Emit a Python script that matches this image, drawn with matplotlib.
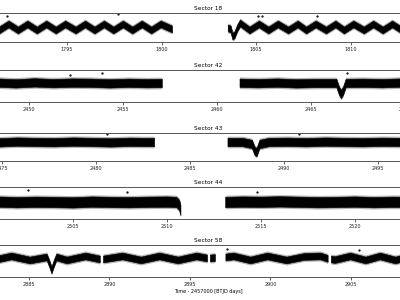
import matplotlib
matplotlib.use("Agg")
import matplotlib.pyplot as plt

# Light curves, one entry per sector: data segments as (time, centre flux), plus scatter half width
sectors = ["Sector 18", "Sector 42", "Sector 43", "Sector 44", "Sector 58"]

s18_t1 = [1790.4, 1790.9, 1791.4, 1791.9, 1792.4, 1792.9, 1793.4, 1793.9, 1794.4, 1794.9,
          1795.45, 1795.95, 1796.45, 1796.95, 1797.45, 1797.95, 1798.45, 1798.95, 1799.45,
          1799.95, 1800.55]
s18_f1 = [0.9985, 1.0015, 0.9985, 1.0015, 0.9985, 1.0015, 0.9985, 1.0015, 0.9985, 1.0015,
          0.9985, 1.0015, 0.9985, 1.0015, 0.9985, 1.0015, 0.9985, 1.0015, 0.9985,
          1.0015, 0.9990]
s18_t2 = [1803.5, 1803.65, 1803.75, 1803.85, 1804.0, 1804.15, 1804.65, 1805.15, 1805.65,
          1806.15, 1806.7, 1807.2, 1807.65, 1808.15, 1808.7, 1809.2, 1809.65, 1810.15,
          1810.7, 1811.2, 1811.7, 1812.2, 1812.7, 1813.2, 1813.7, 1814.6]
s18_f2 = [0.9995, 0.9990, 0.9955, 0.9960, 0.9995, 1.0020, 0.9985, 1.0015, 0.9985,
          1.0015, 0.9985, 1.0015, 0.9985, 1.0015, 0.9985, 1.0015, 0.9985, 1.0015,
          0.9985, 1.0015, 0.9985, 1.0015, 0.9985, 1.0015, 0.9985, 1.0000]

s42_t1 = [2447.3, 2448.3, 2449.3, 2450.3, 2451.3, 2452.3, 2453.3, 2454.3, 2455.3, 2456.3, 2457.07]
s42_f1 = [1.0000, 1.0002, 0.9998, 1.0003, 0.9999, 1.0002, 1.0001, 0.9998, 1.0001, 0.9999, 1.0000]
s42_t2 = [2461.2, 2462.2, 2463.2, 2464.2, 2465.2, 2466.35, 2466.5, 2466.6, 2466.7, 2466.85,
          2467.8, 2468.8, 2469.8, 2470.8, 2471.7]
s42_f2 = [1.0001, 0.9999, 1.0002, 0.9998, 1.0000, 1.0000, 0.9960, 0.9945, 0.9960, 1.0000,
          1.0001, 0.9999, 1.0002, 1.0000, 0.9999]

s43_t1 = [2473.8, 2474.8, 2475.8, 2476.8, 2477.8, 2478.8, 2479.8, 2480.8, 2481.8, 2482.5, 2483.1]
s43_f1 = [1.0000, 0.9998, 1.0002, 1.0000, 0.9999, 1.0002, 1.0000, 0.9998, 1.0001, 1.0000, 1.0000]
s43_t2 = [2487.0, 2487.8, 2488.3, 2488.45, 2488.55, 2488.7, 2489.2, 2490.2, 2491.2, 2492.2,
          2493.2, 2494.2, 2495.2, 2496.2, 2497.2, 2498.1]
s43_f2 = [1.0000, 1.0000, 0.9990, 0.9955, 0.9950, 0.9990, 1.0000, 1.0001, 0.9999, 1.0002,
          1.0000, 0.9999, 1.0001, 1.0000, 0.9999, 1.0000]

s44_t1 = [2500.0, 2501.0, 2502.0, 2503.0, 2504.0, 2505.0, 2506.0, 2507.0, 2508.0, 2509.0,
          2510.0, 2510.5, 2510.65, 2510.72]
s44_f1 = [1.0000, 1.0002, 0.9999, 1.0001, 1.0000, 0.9998, 1.0002, 1.0000, 0.9999, 1.0001,
          1.0002, 1.0000, 0.9985, 0.9960]
s44_t2 = [2513.1, 2514.0, 2515.0, 2516.0, 2517.0, 2518.0, 2519.0, 2520.0, 2521.0, 2522.0,
          2523.0, 2524.4]
s44_f2 = [1.0000, 1.0002, 1.0001, 1.0003, 1.0001, 0.9999, 1.0000, 1.0002, 0.9999, 1.0001,
          1.0000, 1.0001]

s58_t1 = [2881.9, 2882.75, 2883.9, 2885.05, 2886.1, 2886.25, 2886.4, 2886.55, 2886.7, 2887.35, 2888.5, 2889.4]
s58_f1 = [1.0000, 0.9990, 1.0010, 0.9990, 1.0005, 0.9975, 0.9940, 0.9975, 1.0005, 0.9990, 1.0010, 0.9995]
s58_t2 = [2889.6, 2890.8, 2891.95, 2893.1, 2894.25, 2895.4, 2896.06]
s58_f2 = [0.9995, 1.0010, 0.9990, 1.0010, 0.9990, 1.0010, 1.0000]
s58_t3 = [2896.24, 2896.55]
s58_f3 = [1.0000, 1.0002]
s58_t4 = [2897.2, 2897.7, 2898.75, 2899.8, 2901.0, 2902.1, 2903.1, 2903.55]
s58_f4 = [1.0005, 1.0010, 0.9990, 1.0010, 0.9990, 1.0008, 1.0010, 0.9998]
s58_t5 = [2903.75, 2904.0, 2904.95, 2905.9, 2906.8, 2907.75, 2908.7, 2909.6, 2910.3]
s58_f5 = [0.9995, 0.9992, 1.0010, 0.9990, 1.0010, 0.9990, 1.0010, 0.9990, 1.0005]

segments = [
    [(s18_t1, s18_f1), (s18_t2, s18_f2)],
    [(s42_t1, s42_f1), (s42_t2, s42_f2)],
    [(s43_t1, s43_f1), (s43_t2, s43_f2)],
    [(s44_t1, s44_f1), (s44_t2, s44_f2)],
    [(s58_t1, s58_f1), (s58_t2, s58_f2), (s58_t3, s58_f3), (s58_t4, s58_f4), (s58_t5, s58_f5)],
]
scatter = [0.0017, 0.0021, 0.0021, 0.0026, 0.0017]

# isolated high points
outlier_t = [[1791.8, 1797.7, 1805.1, 1805.3, 1808.2],
             [2452.2, 2453.9, 2466.9],
             [2480.6, 2490.8],
             [2502.6, 2507.9, 2514.8],
             [2897.3, 2905.5]]
outlier_f = [[1.0055, 1.0065, 1.0055, 1.0055, 1.0055],
             [1.0040, 1.0050, 1.0050],
             [1.0040, 1.0040],
             [1.0060, 1.0050, 1.0050],
             [1.0045, 1.0040]]

tick_sets = [[1795, 1800, 1805, 1810],
             [2450, 2455, 2460, 2465, 2470],
             [2475, 2480, 2485, 2490, 2495],
             [2505, 2510, 2515, 2520],
             [2885, 2890, 2895, 2900, 2905]]

# view windows (the panels run past the image edges)
xlims = [(1790.39, 1814.52), (2447.40, 2471.65), (2473.84, 2498.09),
         (2500.06, 2524.31), (2881.96, 2910.28)]
ylims = [(0.9925, 1.0070), (0.9905, 1.0065), (0.9905, 1.0045),
         (0.9915, 1.0075), (0.9905, 1.0065)]
boxes = [(0.8600, 0.0967), (0.6600, 0.1067), (0.4633, 0.0933),
         (0.2700, 0.1067), (0.0767, 0.1067)]

fig = plt.figure(figsize=(4, 3), dpi=100)

for i, name in enumerate(sectors):
    bottom, height = boxes[i]
    ax = fig.add_axes([-0.05, bottom, 1.14, height])
    for t, f in segments[i]:
        lo = [v - scatter[i] for v in f]
        hi = [v + scatter[i] for v in f]
        # faint fringe for the sparser outer points, then the dense core
        ax.fill_between(t, [v - 0.0008 for v in lo], [v + 0.0008 for v in hi],
                        color="black", alpha=0.3, lw=0)
        ax.fill_between(t, lo, hi, color="black", lw=0.4, edgecolor="black")
    ax.plot(outlier_t[i], outlier_f[i], ".", color="black", ms=1.2)
    ax.set_xlim(*xlims[i])
    ax.set_ylim(*ylims[i])
    ax.set_xticks(tick_sets[i])
    ax.set_yticks([])
    ax.tick_params(axis="x", labelsize=3.5, length=2, width=0.5, pad=1.5, colors="#222222")
    for sp in ax.spines.values():
        sp.set_color("#555555")
        sp.set_linewidth(0.7)
    ax.set_title(name, fontsize=4.2, pad=2.5)
    if i == len(sectors) - 1:
        ax.set_xlabel("Time - 2457000 [BTJD days]", fontsize=3.5, labelpad=1.5)

fig.savefig("out.png", dpi=100)
